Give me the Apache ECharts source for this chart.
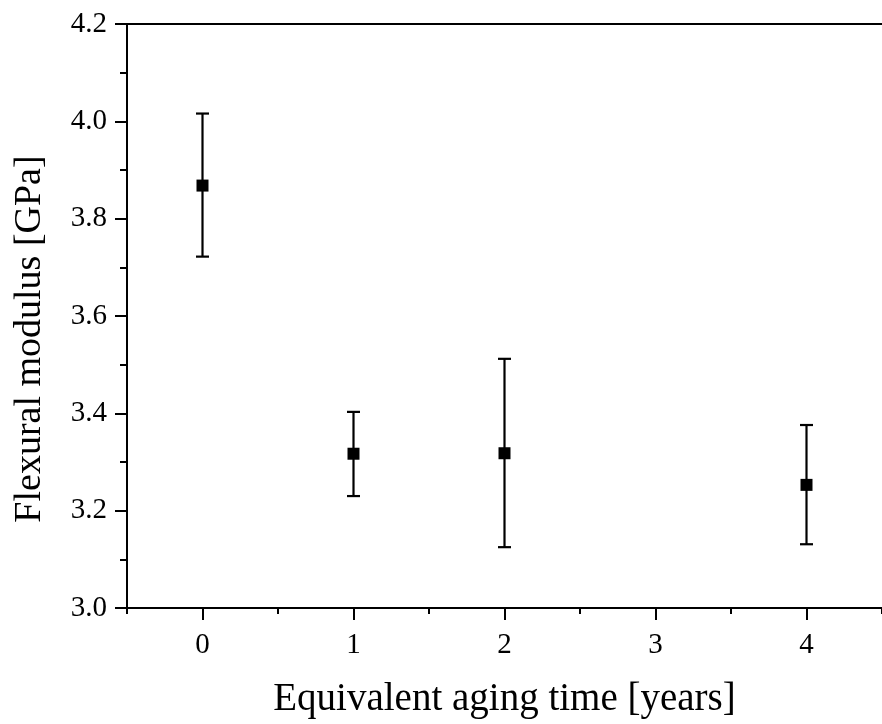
<!DOCTYPE html>
<html>
<head>
<meta charset="utf-8">
<script src="https://cdn.jsdelivr.net/npm/echarts@6/dist/echarts.min.js"></script>
<style>
  html, body { margin: 0; padding: 0; background: #fff; }
  #flexChart { width: 882px; height: 724px; }
</style>
</head>
<body>
<div id="flexChart"></div>
<script>
// x categories (years), one band per integer from -0.5 to 4.5
const agingYears = ['0', '1', '2', '3', '4']
// measured points
const pointYears = ['0', '1', '2', '4']
const modulus = [3.868, 3.317, 3.318, 3.253]
const errLow = [3.722, 3.230, 3.125, 3.131]
const errHigh = [4.016, 3.403, 3.512, 3.376]

const fontFamily = "'Liberation Serif', 'Times New Roman', serif"
const black = '#000'

let chartDom = document.getElementById('flexChart')
let myChart = echarts.init(chartDom)

let scatterData = pointYears.map((x, i) => [x, modulus[i]])
let errData = pointYears.map((x, i) => [x, errLow[i], errHigh[i]])

function renderErrorBar(params, api) {
  let x = api.value(0)
  let top = api.coord([x, api.value(2)])
  let bottom = api.coord([x, api.value(1)])
  let half = 6.5
  let style = {stroke: black, lineWidth: 2.2}
  return {
    type: 'group',
    children: [
      {type: 'line', shape: {x1: top[0], y1: top[1], x2: bottom[0], y2: bottom[1]}, style: style},
      {type: 'line', shape: {x1: top[0] - half, y1: top[1], x2: top[0] + half, y2: top[1]}, style: style},
      {type: 'line', shape: {x1: bottom[0] - half, y1: bottom[1], x2: bottom[0] + half, y2: bottom[1]}, style: style}
    ]
  }
}

let option = {
  backgroundColor: '#fff',
  animation: false,
  grid: {
    left: 127,
    top: 24,
    bottom: 113,
    right: -9
  },
  xAxis: [
    {
      type: 'category',
      position: 'bottom',
      data: agingYears,
      boundaryGap: true,
      name: 'Equivalent aging time [years]',
      nameLocation: 'middle',
      nameGap: 72,
      nameTextStyle: {color: black, fontSize: 39, fontFamily: fontFamily},
      axisLine: {show: true, lineStyle: {color: black, width: 2}},
      axisTick: {show: true, alignWithLabel: true, length: 12, lineStyle: {color: black, width: 2}},
      axisLabel: {color: black, fontSize: 29, fontFamily: fontFamily, margin: 23},
      splitLine: {show: false}
    },
    {
      // short ticks between the years
      type: 'category',
      position: 'bottom',
      data: agingYears,
      boundaryGap: true,
      axisLine: {show: false},
      axisTick: {show: true, length: 6, lineStyle: {color: black, width: 2}},
      axisLabel: {show: false},
      splitLine: {show: false}
    },
    {
      // top border of the frame
      type: 'category',
      position: 'top',
      data: agingYears,
      axisLine: {show: true, lineStyle: {color: black, width: 2}},
      axisTick: {show: false},
      axisLabel: {show: false},
      splitLine: {show: false}
    }
  ],
  yAxis: {
    type: 'value',
    min: 3.0,
    max: 4.2,
    interval: 0.2,
    name: 'Flexural modulus [GPa]',
    nameLocation: 'middle',
    nameGap: 78,
    nameTextStyle: {color: black, fontSize: 38, fontFamily: fontFamily, padding: [0, 46, 0, 0]},
    axisLine: {show: true, lineStyle: {color: black, width: 2}},
    axisTick: {show: true, length: 12, lineStyle: {color: black, width: 2}},
    minorTick: {show: true, splitNumber: 2, length: 7, lineStyle: {color: black, width: 2}},
    axisLabel: {
      color: black,
      fontSize: 29,
      fontFamily: fontFamily,
      margin: 20,
      formatter: v => v.toFixed(1)
    },
    splitLine: {show: false}
  },
  series: [
    {
      type: 'custom',
      xAxisIndex: 0,
      renderItem: renderErrorBar,
      encode: {x: 0, y: [1, 2]},
      data: errData,
      z: 2
    },
    {
      type: 'scatter',
      xAxisIndex: 0,
      symbol: 'rect',
      symbolSize: 12,
      itemStyle: {color: black, opacity: 1},
      data: scatterData,
      z: 3
    }
  ]
}

option && myChart.setOption(option)
</script>
</body>
</html>
